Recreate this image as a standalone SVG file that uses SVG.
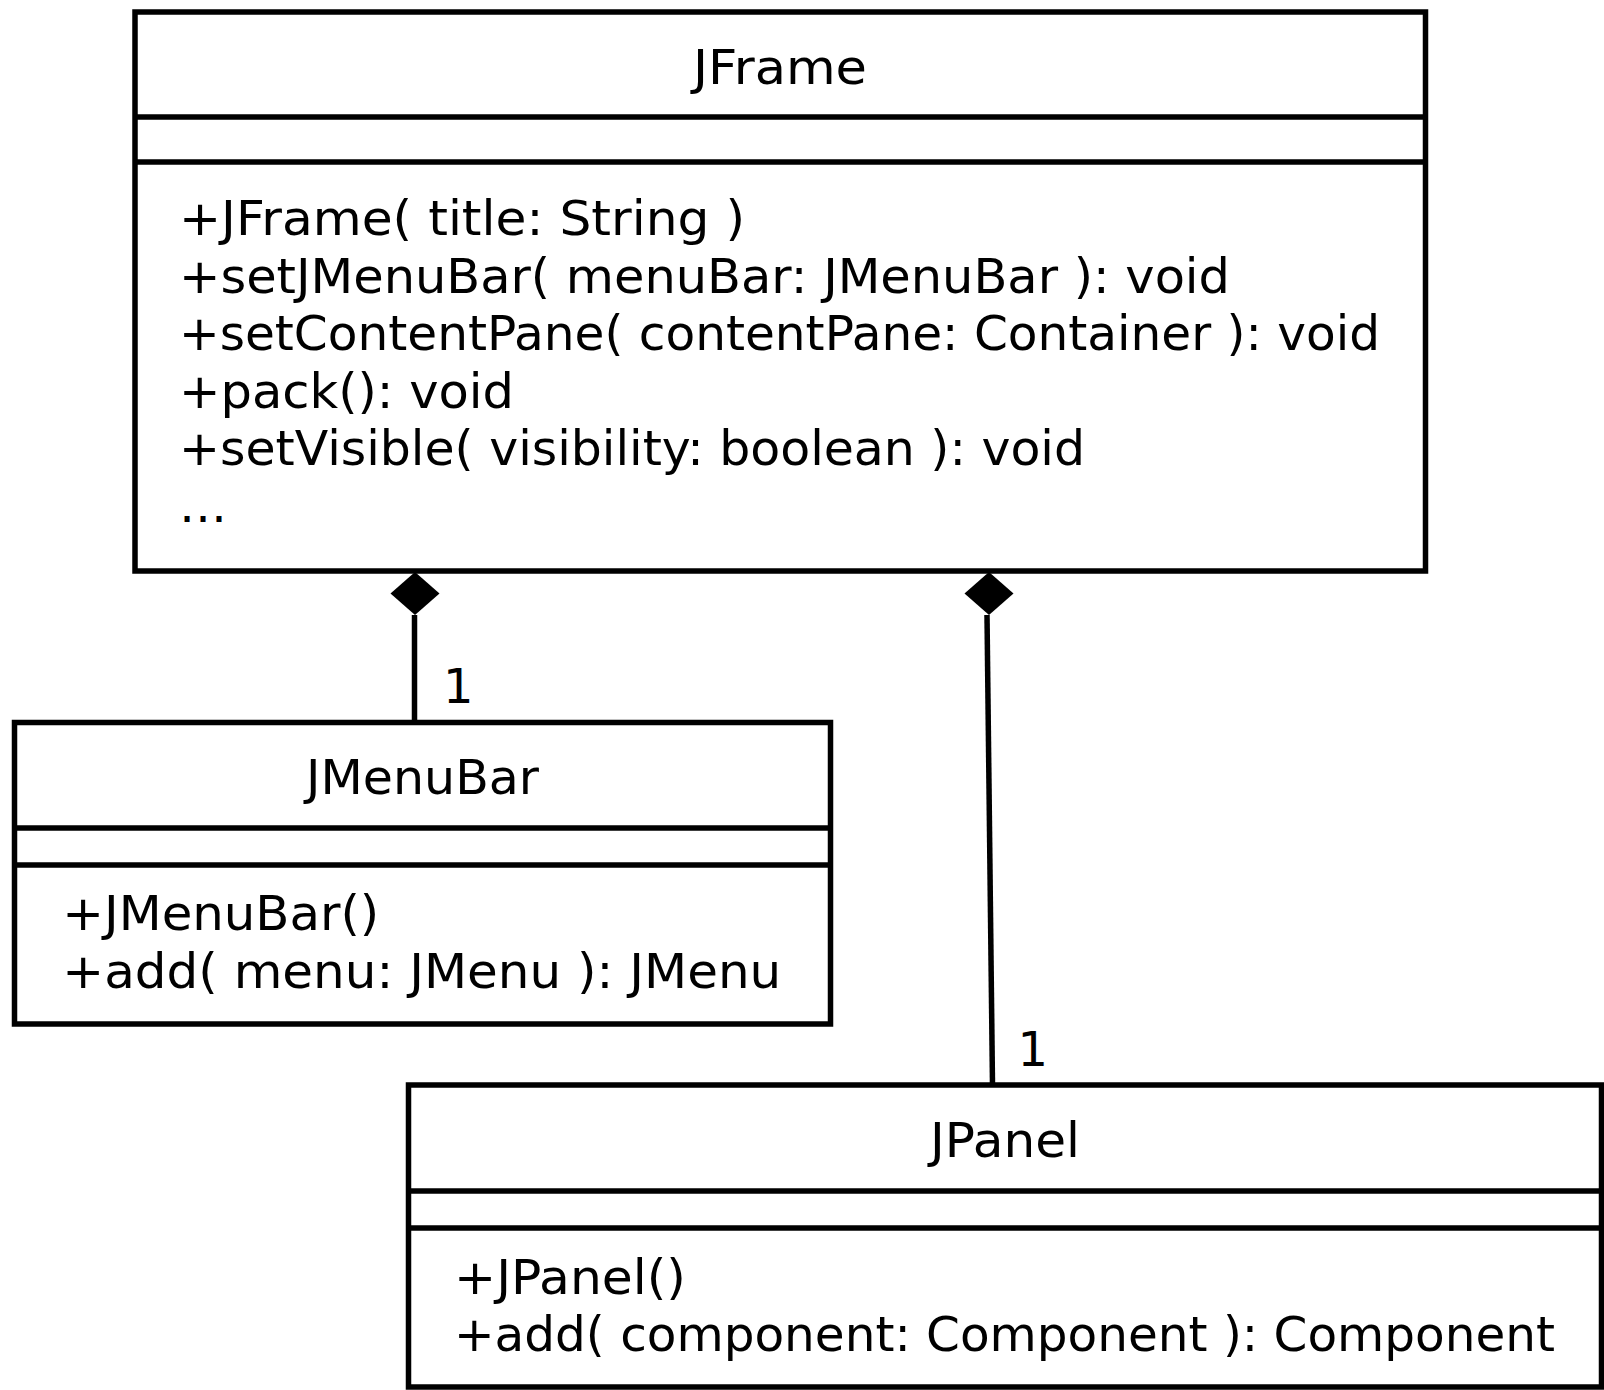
<svg xmlns="http://www.w3.org/2000/svg" width="1604" height="1390" viewBox="0 0 1604 1390">
  <style>
    .box { fill: #ffffff; stroke: #000000; stroke-width: 5.5; }
    .sep { stroke: #000000; stroke-width: 5.5; }
    .edge { stroke: #000000; stroke-width: 5.5; fill: none; }
    .t { font-family: "DejaVu Sans", Verdana, sans-serif; font-size: 48px; fill: #000000; }
    .title { text-anchor: middle; }
  </style>
  <defs>
    <!-- filled composition diamond, centred on its origin -->
    <path id="diamond" d="M0,-21.5 L24.5,0 L0,21.5 L-24.5,0 Z" fill="#000000"/>
  </defs>
  <rect width="1604" height="1390" fill="#ffffff"/>

  <g id="JFrame">
    <rect class="box" x="135" y="12" width="1290.5" height="559"/>
    <line class="sep" x1="135" y1="117" x2="1425.5" y2="117"/>
    <line class="sep" x1="135" y1="162" x2="1425.5" y2="162"/>
    <text class="t title" x="780" y="83.5" textLength="174" lengthAdjust="spacingAndGlyphs">JFrame</text>
    <text class="t" x="179" y="235" textLength="566" lengthAdjust="spacingAndGlyphs">+JFrame( title: String )</text>
    <text class="t" x="179" y="292.6" textLength="1051" lengthAdjust="spacingAndGlyphs">+setJMenuBar( menuBar: JMenuBar ): void</text>
    <text class="t" x="179" y="350.2" textLength="1201" lengthAdjust="spacingAndGlyphs">+setContentPane( contentPane: Container ): void</text>
    <text class="t" x="179" y="407.8" textLength="335" lengthAdjust="spacingAndGlyphs">+pack(): void</text>
    <text class="t" x="179" y="465.4" textLength="906" lengthAdjust="spacingAndGlyphs">+setVisible( visibility: boolean ): void</text>
    <text class="t" x="179" y="522">…</text>
  </g>

  <g id="JMenuBar">
    <rect class="box" x="14.5" y="722.5" width="816" height="301.5"/>
    <line class="sep" x1="14.5" y1="828" x2="830.5" y2="828"/>
    <line class="sep" x1="14.5" y1="865" x2="830.5" y2="865"/>
    <text class="t title" x="422.5" y="794" textLength="233" lengthAdjust="spacingAndGlyphs">JMenuBar</text>
    <text class="t" x="62.3" y="930" textLength="317" lengthAdjust="spacingAndGlyphs">+JMenuBar()</text>
    <text class="t" x="62.3" y="987.5" textLength="719" lengthAdjust="spacingAndGlyphs">+add( menu: JMenu ): JMenu</text>
  </g>

  <g id="JPanel">
    <rect class="box" x="408.5" y="1085" width="1193" height="302"/>
    <line class="sep" x1="408.5" y1="1191" x2="1601.5" y2="1191"/>
    <line class="sep" x1="408.5" y1="1228" x2="1601.5" y2="1228"/>
    <text class="t title" x="1005" y="1156.7" textLength="150" lengthAdjust="spacingAndGlyphs">JPanel</text>
    <text class="t" x="454" y="1293.5" textLength="232" lengthAdjust="spacingAndGlyphs">+JPanel()</text>
    <text class="t" x="454" y="1351" textLength="1101" lengthAdjust="spacingAndGlyphs">+add( component: Component ): Component</text>
  </g>

  <g id="connectors">
    <line class="edge" x1="414.5" y1="615" x2="414.5" y2="722.5"/>
    <use href="#diamond" x="415" y="593.5"/>
    <text class="t" x="443" y="703">1</text>

    <line class="edge" x1="987" y1="615" x2="992.5" y2="1085"/>
    <use href="#diamond" x="989" y="593.5"/>
    <text class="t" x="1017.5" y="1066">1</text>
  </g>
</svg>
